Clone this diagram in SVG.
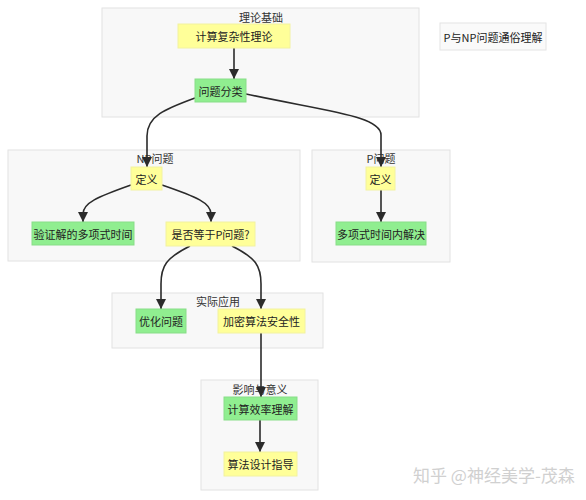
<svg xmlns="http://www.w3.org/2000/svg" width="586" height="500" viewBox="0 0 586 500">
<defs>
<style>
.sg{fill:#f8f8f8;stroke:#e2e2e2;stroke-width:1}
.y{fill:#ffff99;stroke:#f2f2a0;stroke-width:1}
.g{fill:#90ee90;stroke:#88dd88;stroke-width:1}
.t{font-family:"Noto Sans CJK SC","Liberation Sans",sans-serif;font-size:11px;fill:#222;text-anchor:middle;dominant-baseline:central}
.st{font-family:"Noto Sans CJK SC","Liberation Sans",sans-serif;font-size:11px;fill:#333;text-anchor:middle;dominant-baseline:central}
.e{fill:none;stroke:#2b2b2b;stroke-width:1.6}
</style>
<marker id="ah" markerUnits="userSpaceOnUse" markerWidth="10" markerHeight="10" viewBox="0 0 10 10" refX="10" refY="5" orient="auto">
<path d="M0,0 L10,5 L0,10 z" fill="#2b2b2b"/>
</marker>
</defs>
<rect width="586" height="500" fill="#ffffff"/>

<g id="sg-theory"><rect class="sg" x="102" y="8" width="317" height="109"/><text class="st" x="261" y="17">理论基础</text></g>
<g id="sg-np"><rect class="sg" x="8" y="150" width="292" height="111"/><text class="st" x="155" y="158">NP问题</text></g>
<g id="sg-p"><rect class="sg" x="312" y="150" width="138" height="112"/><text class="st" x="381" y="158">P问题</text></g>
<g id="sg-app"><rect class="sg" x="112" y="293" width="211" height="55"/><text class="st" x="218" y="301">实际应用</text></g>
<g id="sg-impact"><rect class="sg" x="201" y="380" width="117" height="110"/><text class="st" x="260" y="389">影响与意义</text></g>

<g id="legend"><rect x="440" y="23" width="106" height="27" fill="#fafafa" stroke="#e4e4e4"/><text class="t" x="493" y="36.5">P与NP问题通俗理解</text></g>

<g id="edges">
<path class="e" d="M234,48 L234,79" marker-end="url(#ah)"/>
<path class="e" d="M195,98 C165,109 147,116 147,136 L147,167" marker-end="url(#ah)"/>
<path class="e" d="M246,94 C330,112 381,116 381,135 L381,167" marker-end="url(#ah)"/>
<path class="e" d="M131,185 C97,197 83,203 83,214 L83,222" marker-end="url(#ah)"/>
<path class="e" d="M162,185 C197,197 211,203 211,214 L211,222" marker-end="url(#ah)"/>
<path class="e" d="M381,190 L381,222" marker-end="url(#ah)"/>
<path class="e" d="M190,246 C166,258 161,266 161,284 L161,309" marker-end="url(#ah)"/>
<path class="e" d="M232,246 C256,258 261,266 261,284 L261,309" marker-end="url(#ah)"/>
<path class="e" d="M261,333 L261,397" marker-end="url(#ah)"/>
<path class="e" d="M260,420 L260,452" marker-end="url(#ah)"/>
</g>

<g id="n-complexity"><rect class="y" x="178" y="24" width="112" height="24"/><text class="t" x="234" y="36">计算复杂性理论</text></g>
<g id="n-classify"><rect class="g" x="195" y="79" width="51" height="23"/><text class="t" x="220.5" y="90.5">问题分类</text></g>
<g id="n-np-def"><rect class="y" x="131" y="167" width="31" height="23"/><text class="t" x="146.5" y="178.5">定义</text></g>
<g id="n-verify"><rect class="g" x="32" y="222" width="102" height="23"/><text class="t" x="83" y="233.5">验证解的多项式时间</text></g>
<g id="n-equalp"><rect class="y" x="166" y="222" width="89" height="24"/><text class="t" x="210.5" y="234">是否等于P问题?</text></g>
<g id="n-p-def"><rect class="y" x="366" y="167" width="29" height="23"/><text class="t" x="380.5" y="178.5">定义</text></g>
<g id="n-polysolve"><rect class="g" x="336" y="222" width="90" height="23"/><text class="t" x="381" y="233.5">多项式时间内解决</text></g>
<g id="n-optimize"><rect class="g" x="136" y="309" width="50" height="24"/><text class="t" x="161" y="321">优化问题</text></g>
<g id="n-crypto"><rect class="y" x="218" y="309" width="87" height="24"/><text class="t" x="261.5" y="321">加密算法安全性</text></g>
<g id="n-efficiency"><rect class="g" x="224" y="397" width="73" height="23"/><text class="t" x="260.5" y="408.5">计算效率理解</text></g>
<g id="n-design"><rect class="y" x="224" y="452" width="73" height="24"/><text class="t" x="260.5" y="464">算法设计指导</text></g>

<text x="413" y="482" font-family="Noto Sans CJK SC,Liberation Sans,sans-serif" font-size="17" fill="#d0d0d0">知乎 @神经美学-茂森</text>
</svg>
